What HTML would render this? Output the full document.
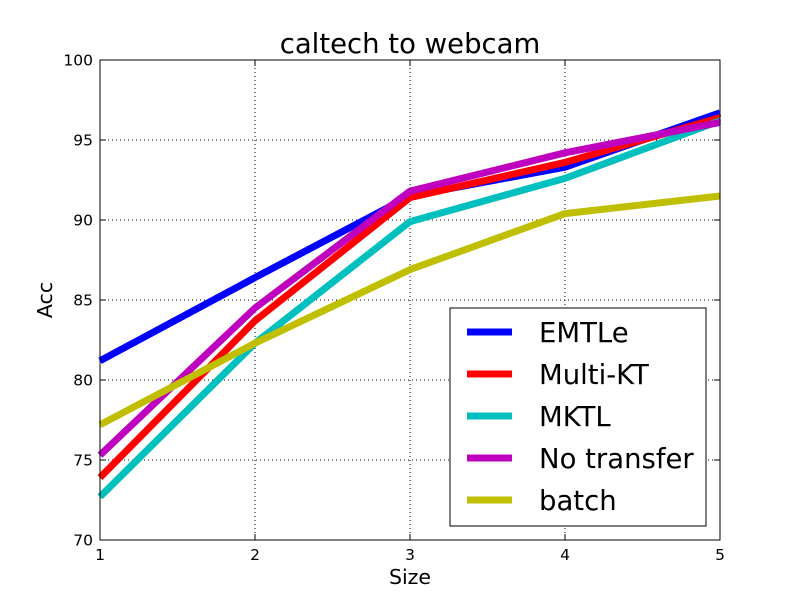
<!DOCTYPE html>
<html><head><meta charset="utf-8"><style>body{margin:0;background:#fff}svg{display:block;font-family:"DejaVu Sans","Liberation Sans",sans-serif}</style></head>
<body>
<svg id="c" width="800" height="600"></svg>
<script>
const categories=[1,2,3,4,5];
const seriesNames=["EMTLe","Multi-KT","MKTL","No transfer","batch"];
const seriesColors=["#0000ff","#ff0000","#00bfbf","#bf00bf","#bfbf00"];
const emtle=[81.2,86.4,91.5,93.3,96.7];
const multikt=[73.9,83.7,91.4,93.6,96.4];
const mktl=[72.7,82.3,89.9,92.6,96.2];
const noTransfer=[75.3,84.5,91.8,94.2,96.1];
const batch=[77.2,82.3,86.9,90.4,91.5];
const yTicks=[70,75,80,85,90,95,100];
const xTicks=[1,2,3,4,5];
const allSeries=[emtle,multikt,mktl,noTransfer,batch];
const L=100,R=720,T=60,B=540;
const sx=v=>L+(v-1)/(5-1)*(R-L);
const sy=v=>B-(v-70)/(100-70)*(B-T);
const NS="http://www.w3.org/2000/svg";
const svg=document.getElementById('c');
function mk(t,a,p){const e=document.createElementNS(NS,t);for(const k in a)e.setAttribute(k,a[k]);(p||svg).appendChild(e);return e;}
xTicks.forEach(v=>{const g=mk('line',{x1:sx(v),x2:sx(v),y1:T,y2:B,stroke:'#000','stroke-width':1,'stroke-dasharray':'1,3'});

});
yTicks.forEach(v=>{const g=mk('line',{x1:L,x2:R,y1:sy(v),y2:sy(v),stroke:'#000','stroke-width':1,'stroke-dasharray':'1,3'});

});
allSeries.forEach((s,i)=>{const pts=s.map((v,j)=>sx(categories[j])+','+sy(v)).join(' ');
const p=mk('polyline',{points:pts,fill:'none',stroke:seriesColors[i],'stroke-width':7,'stroke-linejoin':'round'});

});
const f=mk('rect',{x:L,y:T,width:R-L,height:B-T,fill:'none',stroke:'#000','stroke-width':1});


xTicks.forEach(v=>{mk('line',{x1:sx(v),x2:sx(v),y1:B,y2:B-6,stroke:'#000'});mk('line',{x1:sx(v),x2:sx(v),y1:T,y2:T+6,stroke:'#000'});
const t=mk('text',{x:sx(v),y:B+20,'text-anchor':'middle','font-size':15.5});t.textContent=v;

});
yTicks.forEach(v=>{mk('line',{x1:L,x2:L+6,y1:sy(v),y2:sy(v),stroke:'#000'});mk('line',{x1:R,x2:R-6,y1:sy(v),y2:sy(v),stroke:'#000'});
const t=mk('text',{x:L-7,y:sy(v)+5.5,'text-anchor':'end','font-size':15.5});t.textContent=v;

});
let t=mk('text',{x:410,y:53,'text-anchor':'middle','font-size':27.5});t.textContent='caltech to webcam';


t=mk('text',{x:410,y:584,'text-anchor':'middle','font-size':20.5});t.textContent='Size';


t=mk('text',{x:52,y:300,'text-anchor':'middle','font-size':20.5,transform:'rotate(-90 52 300)'});t.textContent='Acc';


const lg=mk('g',{});


mk('rect',{x:450,y:308,width:256,height:218,fill:'#fff',stroke:'#000'},lg);
seriesNames.forEach((n,i)=>{const y=332+i*42;
const e=mk('g',{},lg);


mk('line',{x1:467,x2:512,y1:y,y2:y,stroke:seriesColors[i],'stroke-width':7},e);
const tx=mk('text',{x:539,y:y+10,'font-size':27.5},e);tx.textContent=n;});
</script>
</body></html>
